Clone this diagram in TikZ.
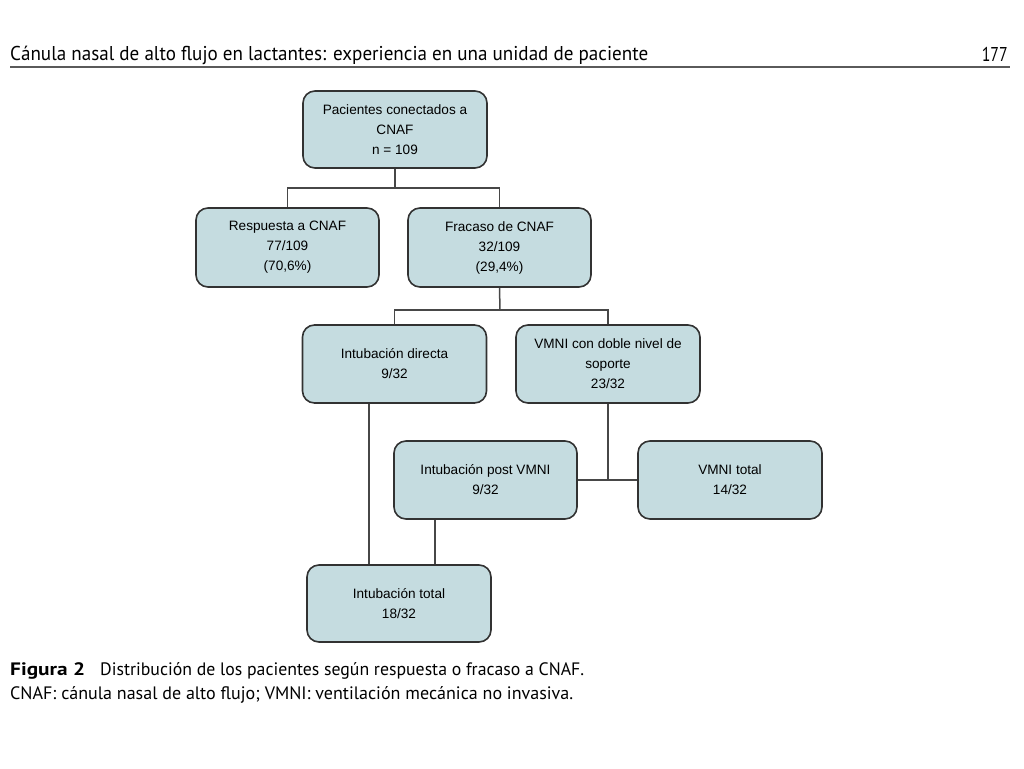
\documentclass[tikz,border=0pt]{standalone}
\usepackage{fontspec}
\usepackage{graphicx}
\setmainfont{Liberation Sans}
\newfontfamily\hdrfont{PT Sans}
\definecolor{boxfill}{RGB}{197,220,224}
\definecolor{boxline}{RGB}{50,50,50}
\definecolor{rulegray}{RGB}{90,90,90}
\begin{document}
\begin{tikzpicture}[x=1pt,y=-1pt,
  flowbox/.style={draw=boxline, line width=1.6pt, fill=boxfill, rounded corners=12pt,
    minimum width=184pt, minimum height=78pt, align=center, inner sep=2pt,
    font=\fontsize{13.6}{20}\selectfont, text=black},
  link/.style={draw=boxline!90, line width=1.5pt},
  hdr/.style={anchor=base west, inner sep=0pt, font=\hdrfont, text=black}]
\useasboundingbox (0,0) rectangle (1024,768);
% header
\node[hdr] (title) at (10,61) {\resizebox{638pt}{\height}{\fontsize{20}{22}\selectfont Cánula nasal de alto flujo en lactantes: experiencia en una unidad de paciente}};
\node[hdr, anchor=base east] (page) at (1008,61) {\resizebox{26pt}{\height}{\fontsize{20}{22}\selectfont 177}};
\coordinate (rl) at (10,67);
\coordinate (rr) at (1010,67);
\draw[rulegray, line width=2pt] (rl) -- (rr);
% boxes
\node[flowbox, minimum height=77pt] (pac) at (395,129.5) {Pacientes conectados a\\CNAF\\n = 109};
\node[flowbox, minimum width=183pt, minimum height=79pt] (resp) at (287.5,247.5) {Respuesta a CNAF\\77/109\\(70,6\%)};
\node[flowbox, minimum width=183pt, minimum height=79pt] (frac) at (499.5,247.5) {Fracaso de CNAF\\32/109\\(29,4\%)};
\node[flowbox] (dir) at (394.5,364) {Intubación directa\\9/32};
\node[flowbox] (vmni) at (608,364) {VMNI con doble nivel de\\soporte\\23/32};
\node[flowbox, minimum width=183pt] (post) at (485.5,480) {Intubación post VMNI\\9/32};
\node[flowbox] (vtot) at (730,480) {VMNI total\\14/32};
\node[flowbox, minimum height=77pt] (itot) at (399,603.5) {Intubación total\\18/32};
% connectors
\coordinate (j1) at (395,188);
\coordinate (j2) at (500,310);
\coordinate (dx) at (369,0);
\coordinate (px) at (435,0);
\draw[link] (pac.south) -- (j1);
\draw[link] (j1) -| (resp.north);
\draw[link] (j1) -| (frac.north);
\draw[link] (frac.south) -- (j2);
\draw[link] (j2) -| (dir.north);
\draw[link] (j2) -| (vmni.north);
\draw[link] (vmni.south) -- (vmni.south |- post.east);
\draw[link] (post.east) -- (vtot.west);
\draw[link] (dir.south -| dx) -- (itot.north -| dx);
\draw[link] (post.south -| px) -- (itot.north -| px);
% caption
\node[hdr] (figl) at (10,675) {\resizebox{75pt}{\height}{\fontsize{18}{20}\selectfont\bfseries Figura 2}};
\node[hdr] (cap1) at (100,675) {\resizebox{484pt}{\height}{\fontsize{18}{20}\selectfont Distribución de los pacientes según respuesta o fracaso a CNAF.}};
\node[hdr] (cap2) at (10,699) {\resizebox{563pt}{\height}{\fontsize{18}{20}\selectfont CNAF: cánula nasal de alto flujo; VMNI: ventilación mecánica no invasiva.}};
\end{tikzpicture}
\end{document}
